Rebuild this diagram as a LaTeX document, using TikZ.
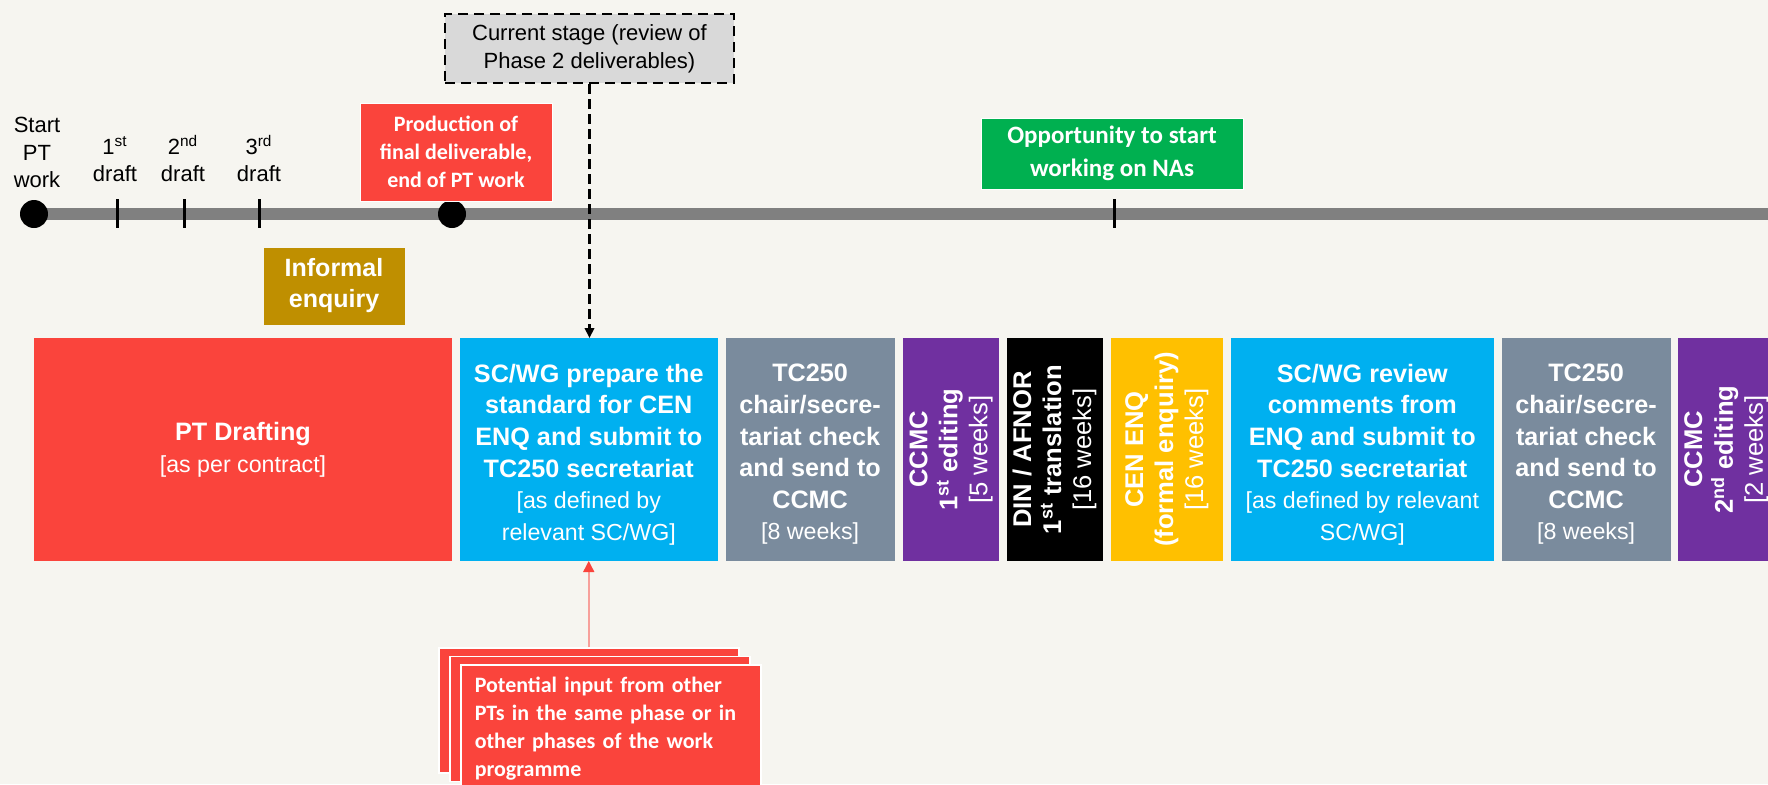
\documentclass[tikz,border=0pt]{standalone}
\usepackage{fontspec}
\setmainfont{Liberation Sans}
\newfontfamily\calibri{Carlito}
\usetikzlibrary{positioning,arrows.meta}

\definecolor{paper}{HTML}{F6F5F0}
\definecolor{ptred}{HTML}{FA443C}
\definecolor{cenblue}{HTML}{00B0F0}
\definecolor{slate}{HTML}{7A8B9D}
\definecolor{ccmcpurple}{HTML}{7030A0}
\definecolor{enqyellow}{HTML}{FFC000}
\definecolor{enqgold}{HTML}{BF8F00}
\definecolor{nagreen}{HTML}{00B050}
\definecolor{linegray}{HTML}{808080}
\definecolor{stagegray}{HTML}{D9D9D9}
\definecolor{pinkline}{HTML}{F7A09B}

\tikzset{
  stage/.style={inner sep=0pt, outer sep=0pt, text=white, align=center,
    minimum height=111.5pt, font=\bfseries\fontsize{12.8}{15}\selectfont},
  stagetext/.style={inner sep=0pt, text=white, align=center, yshift=-2.5pt,
    font=\bfseries\fontsize{12.6}{15.8}\selectfont},
  vstage/.style={stage, minimum width=48pt},
  dot/.style={circle, fill=black, inner sep=0pt, minimum size=14pt},
  milestone/.style={inner sep=0pt, align=center, anchor=south, text depth=0pt,
    font=\fontsize{11}{13.75}\selectfont},
  callout/.style={draw=white, line width=0.5pt, text=white, align=center,
    inner sep=0pt, font=\calibri\bfseries\fontsize{11}{14}\selectfont},
  inputbox/.style={fill=ptred, draw=white, line width=0.75pt, anchor=north west,
    minimum width=150pt, minimum height=62.5pt},
}
\newcommand{\wks}[1]{{\mdseries\fontsize{11.6}{14}\selectfont #1}}
\newcommand{\vlabel}[1]{\rotatebox{90}{\begin{tabular}{@{}c@{}}#1\end{tabular}}}

\begin{document}
\begin{tikzpicture}[x=0.5pt, y=-0.5pt]
\useasboundingbox (0,0) rectangle (1768,784);
\fill[paper] (0,0) rectangle (1768,784);
\clip (0,0) rectangle (1768,784);

% timeline
\coordinate (tstart) at (34,214);
\coordinate (tend) at (1768,214);
\draw[linegray, line width=6pt] (tstart) -- (tend);
\foreach \x in {117,184,259,1114} % drafts and NA tick
\draw[line width=1.5pt] (\x,199) -- (\x,228);
\node[dot] (start) at (tstart) {};
\node[dot] (ptend) at (452,214) {};
\node[milestone] (startlbl) at (37,188) {Start\\PT\\work};
\foreach \x/\n/\s in {115/1/st,183/2/nd,259/3/rd} % draft labels
\node[milestone] (draft\n) at (\x,182) {\n\textsuperscript{\s}\\draft};

% callouts on the timeline
\node[callout, fill=ptred, minimum width=96pt, minimum height=49pt] (final) at (456,152)
  {Production of\\final deliverable,\\end of PT work};
\node[callout, fill=nagreen, minimum width=131pt, minimum height=35.5pt,
  font=\calibri\bfseries\fontsize{12.5}{16.5}\selectfont] (nas) at (1112,153.5)
  {Opportunity to start\\working on NAs};
\node[draw, dash pattern=on 5pt off 3pt, line width=1pt, fill=stagegray,
  minimum width=144.5pt, minimum height=34.5pt, align=center, inner sep=0pt,
  font=\fontsize{11}{14}\selectfont] (now) at (589.5,48.5)
  {Current stage (review of\\Phase 2 deliverables)};
\node[fill=enqgold, text=white, minimum width=70.5pt, minimum height=38.5pt,
  inner sep=0pt, align=center, font=\bfseries\fontsize{12.5}{15.5}\selectfont]
  (informal) at (334,286) {Informal\\enquiry};

% stages
\node[stage, fill=ptred, minimum width=209pt, anchor=west,
  label={[stagetext,yshift=2.5pt]center:{PT Drafting\\\wks{[as per contract]}}}] (drafting) at (34,449.5) {};
\node[stage, fill=cenblue, minimum width=129pt, right=3.9pt of drafting,
  label={[stagetext]center:{SC/WG prepare the\\standard for CEN\\ENQ and submit to\\
   TC250 secretariat\\\wks{[as defined by}\\\wks{relevant SC/WG]}}}] (prepare) {};
\node[stage, fill=slate, minimum width=84.5pt, right=3.9pt of prepare,
  label={[stagetext]center:{TC250\\chair/secre-\\tariat check\\and send to\\
   CCMC\\\wks{[8 weeks]}}}] (check) {};
\node[vstage, fill=ccmcpurple, right=3.9pt of check, xshift=0.5pt] (edit1)
  {\vlabel{CCMC\\1\textsuperscript{st} editing\\\mdseries[5 weeks]}};
\node[vstage, fill=black, right=3.9pt of edit1] (transl)
  {\vlabel{DIN / AFNOR\\1\textsuperscript{st} translation\\\mdseries[16 weeks]}};
\node[vstage, fill=enqyellow, minimum width=56pt, right=3.9pt of transl] (cenenq)
  {\vlabel{CEN ENQ\\(formal enquiry)\\\mdseries[16 weeks]}};
\node[stage, fill=cenblue, minimum width=131.5pt, right=3.9pt of cenenq,
  label={[stagetext]center:{SC/WG review\\comments from\\ENQ and submit to\\
   TC250 secretariat\\\wks{[as defined by relevant}\\\wks{SC/WG]}}}] (review) {};
\node[stage, fill=slate, minimum width=84.5pt, right=3.9pt of review,
  label={[stagetext]center:{TC250\\chair/secre-\\tariat check\\and send to\\
   CCMC\\\wks{[8 weeks]}}}] (check2) {};
\node[vstage, fill=ccmcpurple, right=3.9pt of check2] (edit2)
  {\vlabel{CCMC\\2\textsuperscript{nd} editing\\\mdseries[2 weeks]}};

% input from other PTs
\node[inputbox] (input3) at (438,647) {};
\node[inputbox] (input2) at (449,655.5) {};
\node[inputbox, text width=136pt, inner xsep=7pt, inner ysep=6pt, align=left,
  text=white, font=\calibri\bfseries\fontsize{11}{14}\selectfont] (input1) at (460,664)
  {Potential input from other\\PTs in the same phase or in\\other phases of the work\\programme};

% connectors
\draw[dash pattern=on 5pt off 2.5pt, line width=1.2pt,
  -{Triangle[width=4.7pt,length=5pt]}] (now.south) -- (now.south |- prepare.north);
\draw[pinkline, line width=0.75pt, -{Triangle[width=5.5pt,length=5.5pt,color=ptred]}]
  (input3.north) -- (input3.north |- prepare.south);
\end{tikzpicture}
\end{document}
